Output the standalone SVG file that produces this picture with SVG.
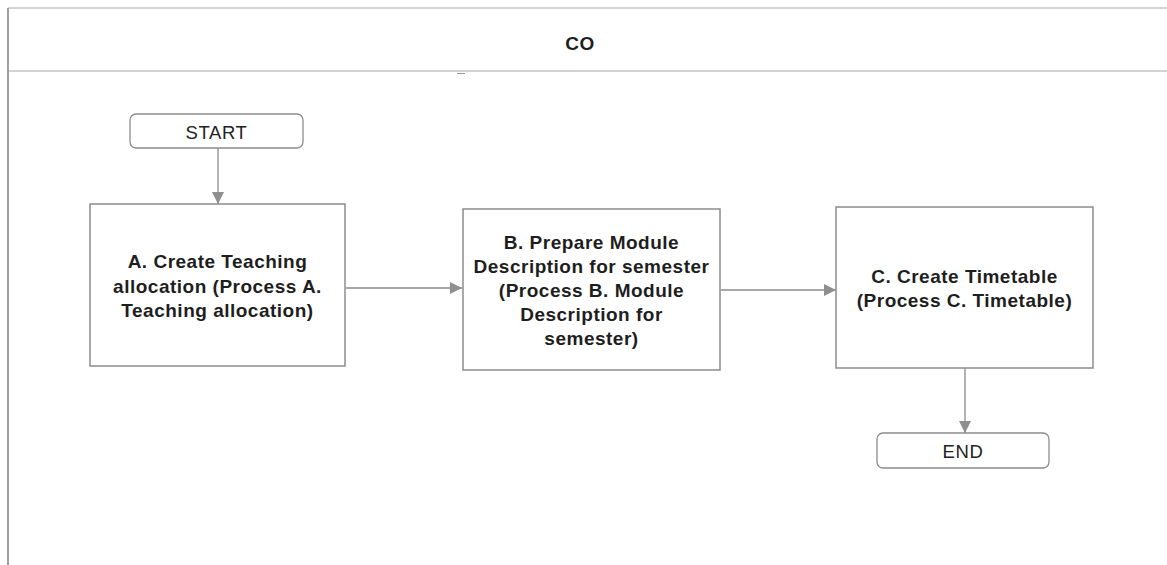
<svg xmlns="http://www.w3.org/2000/svg" width="1167" height="565" viewBox="0 0 1167 565">
  <style>
    .frame { fill: none; stroke: #c4c4c4; stroke-width: 1.5; }
    .border { fill: none; stroke: #a0a0a0; stroke-width: 2; }
    .box { fill: #ffffff; stroke: #8c8c8c; stroke-width: 1.5; }
    .term { fill: #ffffff; stroke: #8c8c8c; stroke-width: 1.3; }
    .lbl { font-family: "Liberation Sans", Arial, sans-serif; font-size: 19px; font-weight: bold; letter-spacing: 0.5px; fill: #1e1e1e; text-anchor: middle; }
    .tlbl { font-family: "Liberation Sans", Arial, sans-serif; font-size: 18.5px; letter-spacing: 0.6px; fill: #222222; text-anchor: middle; }
    .edge { fill: none; stroke: #8a8a8a; stroke-width: 1.3; }
  </style>
  <defs>
    <marker id="arrow" viewBox="0 0 12 12" refX="12" refY="6" markerWidth="12" markerHeight="12" markerUnits="userSpaceOnUse" orient="auto">
      <path d="M0,0 L12,6 L0,12 Z" fill="#8f8f8f"/>
    </marker>
  </defs>

  <rect width="1167" height="565" fill="#ffffff"/>

  <!-- pool frame with header band -->
  <g id="pool">
    <line class="frame" x1="8" y1="8" x2="1167" y2="8"/>
    <line class="frame" x1="8" y1="71" x2="1167" y2="71"/>
    <line class="border" x1="8" y1="8" x2="8" y2="565"/>
    <line x1="457" y1="73.5" x2="465" y2="73.5" stroke="#999999" stroke-width="1"/>
    <text class="lbl" x="580" y="50">CO</text>
  </g>

  <!-- connectors -->
  <g id="connectors">
    <line class="edge" x1="218" y1="148" x2="218" y2="204" marker-end="url(#arrow)"/>
    <line class="edge" x1="346" y1="288" x2="462" y2="288" marker-end="url(#arrow)"/>
    <line class="edge" x1="721" y1="290" x2="836" y2="290" marker-end="url(#arrow)"/>
    <line class="edge" x1="965" y1="368" x2="965" y2="433" marker-end="url(#arrow)"/>
  </g>

  <g id="start">
    <rect class="term" x="130" y="114" width="173" height="34" rx="6"/>
    <text class="tlbl" x="216.5" y="139">START</text>
  </g>

  <g id="taskA">
    <rect class="box" x="90" y="204" width="255" height="162"/>
    <text class="lbl" x="217.5" y="268">A. Create Teaching</text>
    <text class="lbl" x="217.5" y="292.5">allocation  (Process A.</text>
    <text class="lbl" x="217.5" y="317">Teaching allocation)</text>
  </g>

  <g id="taskB">
    <rect class="box" x="463" y="209" width="257" height="161"/>
    <text class="lbl" x="591.5" y="249">B. Prepare Module</text>
    <text class="lbl" x="591.5" y="273">Description  for semester</text>
    <text class="lbl" x="591.5" y="297">(Process B. Module</text>
    <text class="lbl" x="591.5" y="321">Description for</text>
    <text class="lbl" x="591.5" y="345">semester)</text>
  </g>

  <g id="taskC">
    <rect class="box" x="836" y="207" width="257" height="161"/>
    <text class="lbl" x="964.5" y="283">C. Create Timetable</text>
    <text class="lbl" x="964.5" y="307">(Process C. Timetable)</text>
  </g>

  <g id="end">
    <rect class="term" x="877" y="433" width="172" height="35" rx="6"/>
    <text class="tlbl" x="963" y="458">END</text>
  </g>
</svg>
